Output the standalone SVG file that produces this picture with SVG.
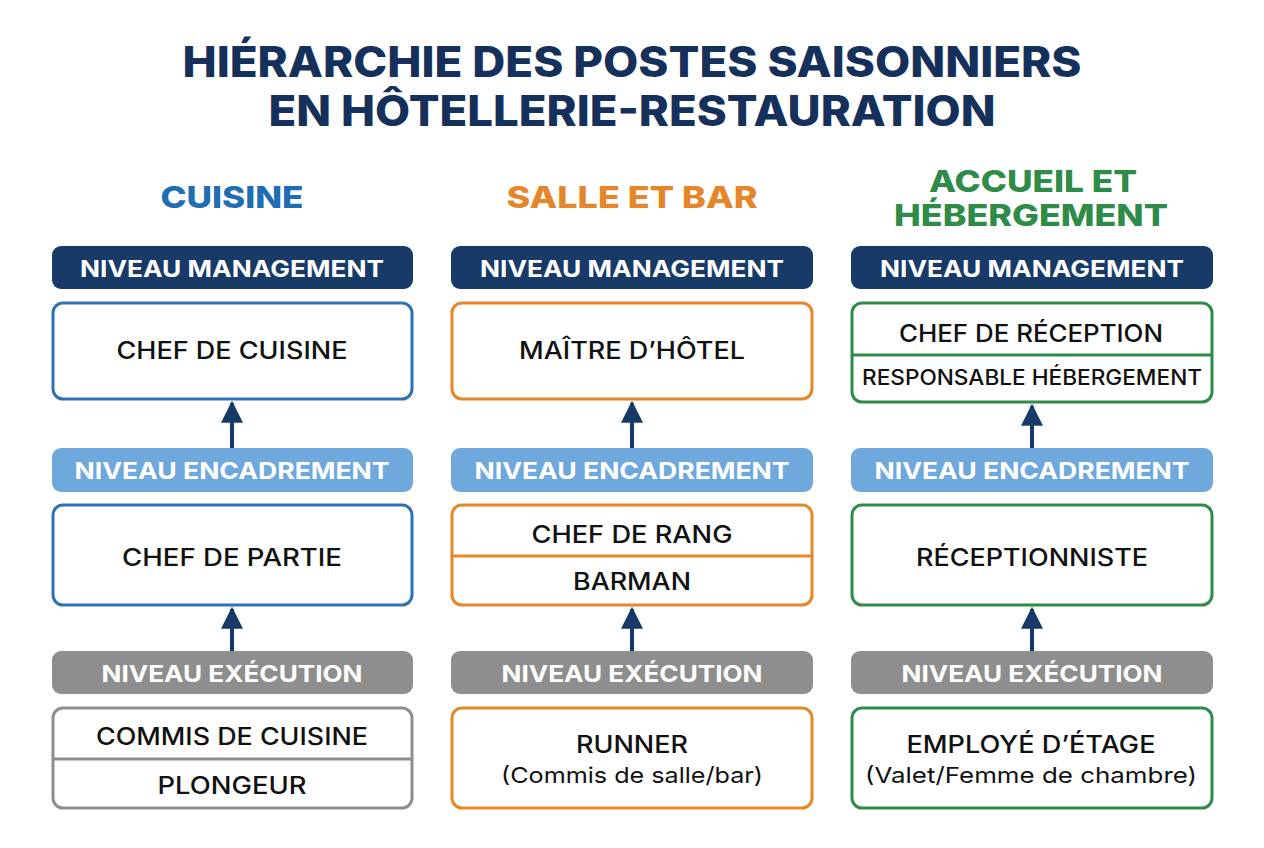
<svg xmlns="http://www.w3.org/2000/svg" width="1264" height="848" viewBox="0 0 1264 848">
<defs>
<style>
.title{font-family:Inter,"Liberation Sans",sans-serif;font-weight:800;font-size:42px;fill:#15305a;text-anchor:middle}
.hdr{font-family:Inter,"Liberation Sans",sans-serif;font-weight:800;font-size:30px;text-anchor:middle}
.band{font-family:Inter,"Liberation Sans",sans-serif;font-weight:700;font-size:23px;fill:#fff;text-anchor:middle}
.t{font-family:Inter,"Liberation Sans",sans-serif;font-weight:500;font-size:24px;fill:#111;text-anchor:middle}
.s{font-family:Inter,"Liberation Sans",sans-serif;font-weight:400;font-size:22px;fill:#111;text-anchor:middle}
.mg{fill:#173b66}
.en{fill:#6fa8dc}
.ex{fill:#8e8e8e}
.bx{fill:#fff;stroke-width:3}
.blue{stroke:#2f72b3}
.orange{stroke:#e5862a}
.green{stroke:#2e8b48}
.gray{stroke:#8e8e8e}
.conn line{stroke:#173b66;stroke-width:4}
</style>
<marker id="ah" viewBox="0 0 10 10" refX="9" refY="5" markerWidth="5.5" markerHeight="5.5" markerUnits="strokeWidth" orient="auto">
<path d="M0,0 L10,5 L0,10 z" fill="#173b66"/>
</marker>
</defs>
<rect width="1264" height="848" fill="#fff"/>
<g id="title">
<text class="title" x="632" y="77" textLength="899" lengthAdjust="spacingAndGlyphs">HIÉRARCHIE DES POSTES SAISONNIERS</text>
<text class="title" x="632" y="126" textLength="727" lengthAdjust="spacingAndGlyphs">EN HÔTELLERIE-RESTAURATION</text>
</g>
<g id="headers">
<text class="hdr" x="232" y="208" fill="#1f6db3" textLength="143" lengthAdjust="spacingAndGlyphs">CUISINE</text>
<text class="hdr" x="632" y="208" fill="#e5862a" textLength="251" lengthAdjust="spacingAndGlyphs">SALLE ET BAR</text>
<text class="hdr" x="1033" y="192" fill="#2e8b48" textLength="208" lengthAdjust="spacingAndGlyphs">ACCUEIL ET</text>
<text class="hdr" x="1031" y="226" fill="#2e8b48" textLength="274" lengthAdjust="spacingAndGlyphs">HÉBERGEMENT</text>
</g>
<g id="bands">
<rect class="mg" x="52" y="246" width="361" height="43" rx="9"/>
<text class="band" x="232" y="277" textLength="304" lengthAdjust="spacingAndGlyphs">NIVEAU MANAGEMENT</text>
<rect class="mg" x="451" y="246" width="362" height="43" rx="9"/>
<text class="band" x="632" y="277" textLength="304" lengthAdjust="spacingAndGlyphs">NIVEAU MANAGEMENT</text>
<rect class="mg" x="851" y="246" width="362" height="43" rx="9"/>
<text class="band" x="1032" y="277" textLength="304" lengthAdjust="spacingAndGlyphs">NIVEAU MANAGEMENT</text>
<rect class="en" x="52" y="448" width="361" height="44" rx="9"/>
<text class="band" x="232" y="479" textLength="315" lengthAdjust="spacingAndGlyphs">NIVEAU ENCADREMENT</text>
<rect class="en" x="451" y="448" width="362" height="44" rx="9"/>
<text class="band" x="632" y="479" textLength="315" lengthAdjust="spacingAndGlyphs">NIVEAU ENCADREMENT</text>
<rect class="en" x="851" y="448" width="362" height="44" rx="9"/>
<text class="band" x="1032" y="479" textLength="315" lengthAdjust="spacingAndGlyphs">NIVEAU ENCADREMENT</text>
<rect class="ex" x="52" y="651" width="361" height="43" rx="9"/>
<text class="band" x="232" y="682" textLength="261" lengthAdjust="spacingAndGlyphs">NIVEAU EXÉCUTION</text>
<rect class="ex" x="451" y="651" width="362" height="43" rx="9"/>
<text class="band" x="632" y="682" textLength="261" lengthAdjust="spacingAndGlyphs">NIVEAU EXÉCUTION</text>
<rect class="ex" x="851" y="651" width="362" height="43" rx="9"/>
<text class="band" x="1032" y="682" textLength="261" lengthAdjust="spacingAndGlyphs">NIVEAU EXÉCUTION</text>
</g>
<g id="chef-de-cuisine">
<rect class="bx blue" x="53" y="303" width="359" height="96" rx="10"/>
<text class="t" x="232" y="359" textLength="231" lengthAdjust="spacingAndGlyphs">CHEF DE CUISINE</text>
</g>
<g id="chef-de-partie">
<rect class="bx blue" x="53" y="505" width="359" height="100" rx="10"/>
<text class="t" x="232" y="566" textLength="220" lengthAdjust="spacingAndGlyphs">CHEF DE PARTIE</text>
</g>
<g id="commis-plongeur">
<rect class="bx gray" x="53" y="708" width="359" height="100" rx="10"/>
<line x1="53" y1="759" x2="412" y2="759" stroke="#8e8e8e" stroke-width="3"/>
<text class="t" x="232" y="745" textLength="272" lengthAdjust="spacingAndGlyphs">COMMIS DE CUISINE</text>
<text class="t" x="232" y="794" textLength="149" lengthAdjust="spacingAndGlyphs">PLONGEUR</text>
</g>
<g id="maitre-hotel">
<rect class="bx orange" x="452" y="303" width="360" height="96" rx="10"/>
<text class="t" x="632" y="359" textLength="226" lengthAdjust="spacingAndGlyphs">MAÎTRE D’HÔTEL</text>
</g>
<g id="chef-rang-barman">
<rect class="bx orange" x="452" y="505" width="360" height="100" rx="10"/>
<line x1="452" y1="556" x2="812" y2="556" stroke="#e5862a" stroke-width="3"/>
<text class="t" x="632" y="543" textLength="201" lengthAdjust="spacingAndGlyphs">CHEF DE RANG</text>
<text class="t" x="632" y="590" textLength="118" lengthAdjust="spacingAndGlyphs">BARMAN</text>
</g>
<g id="runner">
<rect class="bx orange" x="452" y="708" width="360" height="100" rx="10"/>
<text class="t" x="632" y="753" textLength="112" lengthAdjust="spacingAndGlyphs">RUNNER</text>
<text class="s" x="632" y="783" textLength="262" lengthAdjust="spacingAndGlyphs">(Commis de salle/bar)</text>
</g>
<g id="chef-reception">
<rect class="bx green" x="852" y="303" width="360" height="99" rx="10"/>
<line x1="852" y1="355" x2="1212" y2="355" stroke="#2e8b48" stroke-width="3"/>
<text class="t" x="1031" y="342" textLength="264" lengthAdjust="spacingAndGlyphs">CHEF DE RÉCEPTION</text>
<text class="t" x="1032" y="385" style="font-size:21px" textLength="340" lengthAdjust="spacingAndGlyphs">RESPONSABLE HÉBERGEMENT</text>
</g>
<g id="receptionniste">
<rect class="bx green" x="852" y="505" width="360" height="100" rx="10"/>
<text class="t" x="1032" y="566" textLength="232" lengthAdjust="spacingAndGlyphs">RÉCEPTIONNISTE</text>
</g>
<g id="employe-etage">
<rect class="bx green" x="852" y="708" width="360" height="100" rx="10"/>
<text class="t" x="1031" y="753" textLength="249" lengthAdjust="spacingAndGlyphs">EMPLOYÉ D’ÉTAGE</text>
<text class="s" x="1031" y="783" textLength="332" lengthAdjust="spacingAndGlyphs">(Valet/Femme de chambre)</text>
</g>
<g id="connectors" class="conn">
<line x1="232" y1="448" x2="232" y2="403" marker-end="url(#ah)"/>
<line x1="632" y1="448" x2="632" y2="403" marker-end="url(#ah)"/>
<line x1="1032" y1="448" x2="1032" y2="406" marker-end="url(#ah)"/>
<line x1="232" y1="651" x2="232" y2="609" marker-end="url(#ah)"/>
<line x1="632" y1="651" x2="632" y2="609" marker-end="url(#ah)"/>
<line x1="1032" y1="651" x2="1032" y2="609" marker-end="url(#ah)"/>
</g>
</svg>
